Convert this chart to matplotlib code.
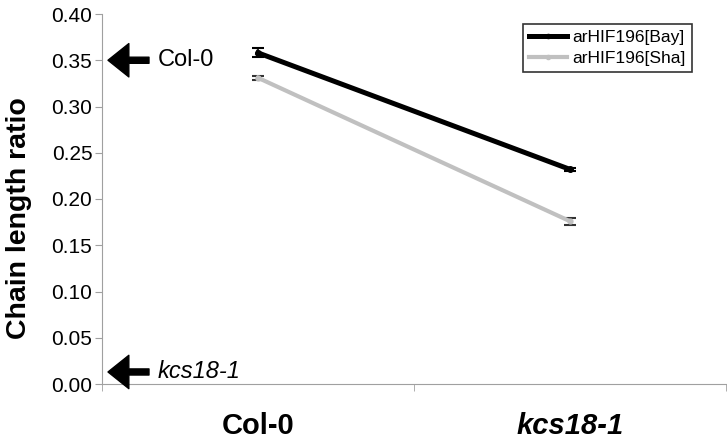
import numpy as np
import matplotlib.pyplot as plt
from matplotlib.lines import Line2D
from matplotlib.transforms import blended_transform_factory

plt.rcParams['font.family'] = ['Liberation Sans', 'DejaVu Sans']

genotypes = ['Col-0', 'kcs18-1']
bay = [0.358, 0.232]
bay_err = [0.005, 0.002]
sha = [0.331, 0.176]
sha_err = [0.002, 0.004]
yticks = [0.00, 0.05, 0.10, 0.15, 0.20, 0.25, 0.30, 0.35, 0.40]
ref_labels = ['Col-0', 'kcs18-1']
ref_values = [0.350, 0.013]

fig = plt.figure(figsize=(7.27, 4.41), dpi=100)
ax = fig.add_axes([102 / 727, 57 / 441, 624 / 727, 370 / 441])

x = np.arange(len(genotypes))
ax.errorbar(x, bay, yerr=bay_err, color='black', lw=3.6, marker='o', ms=4,
            ecolor='black', elinewidth=1.2, capsize=4, capthick=1.5, zorder=3)
ax.errorbar(x, sha, yerr=sha_err, color='#c0c0c0', lw=3.0, marker='o', ms=3.5,
            ecolor='#333333', elinewidth=1.2, capsize=4, capthick=1.5, zorder=2)

ax.set_xlim(-0.5, 1.5)
ax.set_ylim(0, 0.40)
ax.set_yticks(yticks)
ax.set_yticklabels([f'{v:.2f}' for v in yticks], fontsize=15)
ax.set_xticks(x)
ax.set_xticklabels(genotypes, fontsize=21, fontweight='bold')
ax.get_xticklabels()[1].set_fontstyle('italic')
ax.set_xticks([-0.5, 0.5, 1.5], minor=True)
ax.tick_params(axis='x', which='major', length=0, pad=20)
ax.tick_params(axis='x', which='minor', length=5, color='#a0a0a0')
ax.tick_params(axis='y', length=5, color='#a0a0a0', pad=2)
for s in ['top', 'right']:
    ax.spines[s].set_visible(False)
for s in ['left', 'bottom']:
    ax.spines[s].set_color('#a0a0a0')
ax.set_ylabel('Chain length ratio', fontsize=20.5, fontweight='bold')
ax.yaxis.set_label_coords(-70 / 624, (384 - 218) / 370)

# reference arrows for the parental lines
trans = blended_transform_factory(fig.transFigure, ax.transData)
for lab, val in zip(ref_labels, ref_values):
    ax.annotate('', xy=(108 / 727, val), xytext=(149 / 727, val),
                xycoords=trans, textcoords=trans,
                arrowprops=dict(arrowstyle='simple,head_length=0.75,head_width=1.2,tail_width=0.22',
                                fc='black', ec='black', shrinkA=0, shrinkB=0,
                                mutation_scale=20),
                annotation_clip=False)
    ax.text(158 / 727, val, lab, transform=trans, fontsize=17, va='center', ha='left',
            fontstyle='italic' if lab == 'kcs18-1' else 'normal')

handles = [Line2D([], [], color='black', lw=3.6, marker='o', ms=3),
           Line2D([], [], color='#c0c0c0', lw=3.0, marker='o', ms=3)]
leg = ax.legend(handles, ['arHIF196[Bay]', 'arHIF196[Sha]'], loc='upper right',
                bbox_to_anchor=(692 / 727, 417 / 441), bbox_transform=fig.transFigure,
                fontsize=12.5, frameon=True, fancybox=False, edgecolor='black',
                handlelength=2.2, handletextpad=0.3, borderpad=0.35,
                labelspacing=0.3, borderaxespad=0)
leg.get_frame().set_linewidth(1.2)

fig.savefig('out.png', dpi=100)
